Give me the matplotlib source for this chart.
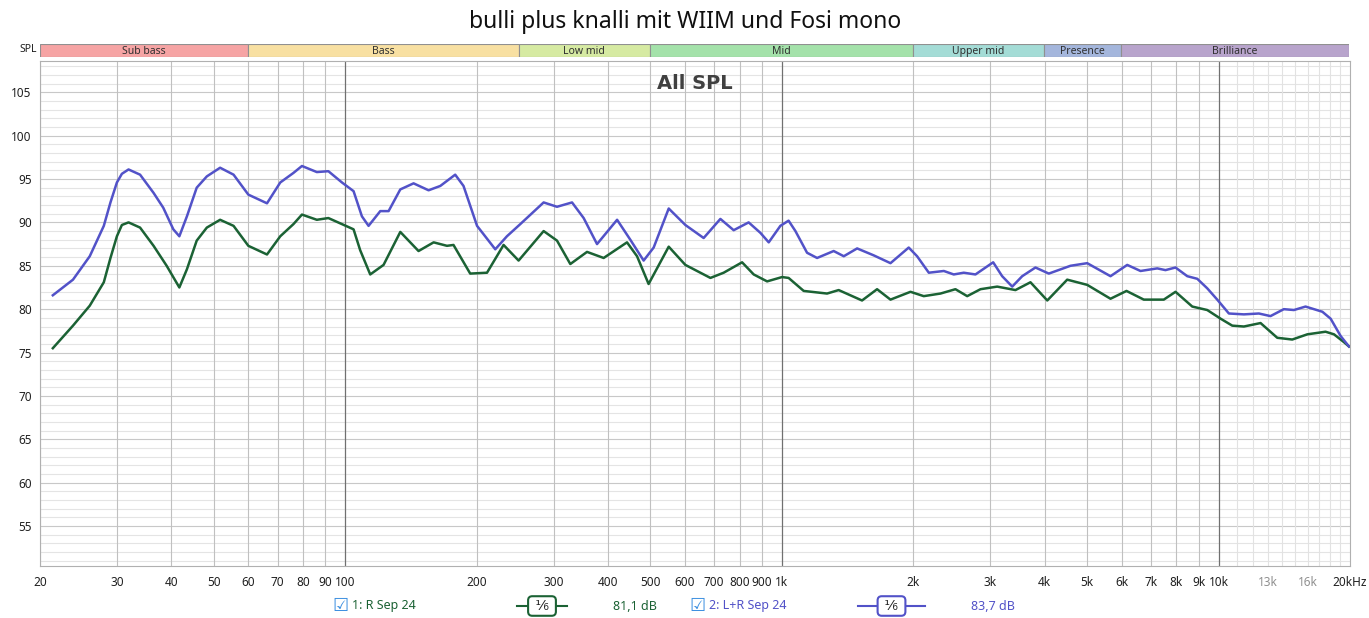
import matplotlib
matplotlib.use("Agg")
import matplotlib.pyplot as plt
from matplotlib.lines import Line2D
from matplotlib.patches import Rectangle

plt.rcParams['font.family'] = ['Noto Sans', 'DejaVu Sans']

title = "bulli plus knalli mit WIIM und Fosi mono"

# 1: R Sep 24 (green)
freq_r = [21.4, 23.8, 26.0, 28.0, 29.0, 30.0, 30.8, 31.9, 33.9, 36.4, 39.0, 41.7, 43.4, 45.7,
          48.2, 51.7, 55.5, 60.0, 66.2, 71.0, 76.1, 79.6, 86.1, 91.5, 98.3, 104.5,
          108.2, 114.1, 122.4, 133.7, 147.2, 159.4, 171.0, 177.0, 193.3, 211.2, 230.5,
          249.5, 284.7, 305.5, 327.7, 357.9, 390.7, 441.9, 465.9, 495.2, 550.6, 601.1,
          686, 735.7, 810.7, 861.9, 925, 1001, 1036, 1122, 1269, 1349, 1526, 1652,
          1773, 1970, 2113, 2308, 2497, 2657, 2850, 3112, 3427, 3709, 4053, 4502,
          5003, 5657, 6155, 6742, 7492, 7970, 8706, 9422, 10110, 10750, 11430, 12480,
          13630, 14750, 15970, 17580, 18380, 19370, 19890]
spl_r = [75.5, 78.1, 80.4, 83.1, 85.9, 88.4, 89.7, 90.0, 89.4, 87.3, 85.0, 82.5, 84.6, 87.9,
         89.4, 90.3, 89.6, 87.3, 86.3, 88.4, 89.8, 90.9, 90.3, 90.5, 89.8, 89.2,
         86.8, 84.0, 85.1, 88.9, 86.7, 87.7, 87.3, 87.4, 84.1, 84.2, 87.4,
         85.6, 89.0, 87.9, 85.2, 86.6, 85.9, 87.7, 86.1, 82.9, 87.2, 85.1,
         83.6, 84.2, 85.4, 84.0, 83.2, 83.7, 83.6, 82.1, 81.8, 82.2, 81.0, 82.3,
         81.1, 82.0, 81.5, 81.8, 82.3, 81.5, 82.3, 82.6, 82.2, 83.1, 81.0, 83.4,
         82.8, 81.2, 82.1, 81.1, 81.1, 82.0, 80.3, 79.9, 78.9, 78.1, 78.0, 78.4,
         76.7, 76.5, 77.1, 77.4, 77.1, 76.2, 75.7]

# 2: L+R Sep 24 (blue)
freq_lr = [21.4, 23.8, 26.0, 28.0, 29.0, 30.0, 30.8, 31.9, 33.9, 36.4, 38.3, 40.4, 41.7, 43.4,
           45.7, 48.2, 51.7, 55.5, 60.0, 66.2, 71.0, 76.1, 79.6, 86.1, 91.5, 98.3,
           104.5, 109.2, 113.1, 120.3, 125.7, 133.7, 143.4, 155.2, 165.1, 178.6, 186.6,
           200.4, 220.6, 234.6, 251.7, 284.7, 305.5, 330.7, 351.6, 377.3, 419.4, 449.7,
           482.4, 508.6, 550.6, 601.1, 662.0, 723.0, 775.5, 839.2, 892.7, 933, 992,
           1036, 1074, 1142, 1204, 1314, 1386, 1487, 1623, 1773, 1952, 2040, 2170,
           2349, 2475, 2609, 2775, 3047, 3195, 3369, 3551, 3808, 4086, 4581, 5003,
           5657, 6178, 6627, 7237, 7559, 7970, 8480, 8938, 9422, 9931, 10560, 11430,
           12370, 13150, 14110, 14880, 15820, 17290, 18060, 19040, 19890]
spl_lr = [81.6, 83.4, 86.1, 89.6, 92.3, 94.6, 95.6, 96.1, 95.5, 93.4, 91.7, 89.2, 88.4, 90.7,
          94.0, 95.3, 96.3, 95.5, 93.2, 92.2, 94.6, 95.7, 96.5, 95.8, 95.9, 94.6,
          93.6, 90.7, 89.6, 91.3, 91.3, 93.8, 94.5, 93.7, 94.2, 95.5, 94.2,
          89.6, 86.9, 88.4, 89.8, 92.3, 91.8, 92.3, 90.5, 87.5, 90.3, 88.0,
          85.6, 87.1, 91.6, 89.7, 88.2, 90.4, 89.1, 90.0, 88.8, 87.7, 89.6,
          90.2, 89.0, 86.5, 85.9, 86.7, 86.1, 87.0, 86.2, 85.3, 87.1, 86.1, 84.2,
          84.4, 84.0, 84.2, 84.0, 85.4, 83.8, 82.6, 83.8, 84.8, 84.1, 85.0, 85.3,
          83.8, 85.1, 84.4, 84.7, 84.5, 84.8, 83.8, 83.5, 82.4, 81.1, 79.5, 79.4,
          79.5, 79.2, 80.0, 79.9, 80.3, 79.7, 78.9, 76.9, 75.7]

bands = ["Sub bass", "Bass", "Low mid", "Mid", "Upper mid", "Presence", "Brilliance"]
band_edges = [20, 60, 250, 500, 2000, 4000, 6000, 20000]
band_colors = ["#f6a4a4", "#f8e0a2", "#d6eaa2", "#a4e2aa", "#a4dcd6", "#a4b6dc", "#b8a4cc"]

xtick_vals = [20, 30, 40, 50, 60, 70, 80, 90, 100, 200, 300, 400, 500, 600, 700, 800, 900,
              1000, 2000, 3000, 4000, 5000, 6000, 7000, 8000, 9000, 10000, 13000, 16000, 20000]
xtick_labels = ["20", "30", "40", "50", "60", "70", "80", "90", "100", "200", "300", "400",
                "500", "600", "700", "800", "900", "1k", "2k", "3k", "4k", "5k", "6k", "7k",
                "8k", "9k", "10k", "13k", "16k", "20kHz"]
ytick_vals = [55, 60, 65, 70, 75, 80, 85, 90, 95, 100, 105]

green = "#1b6234"
blue = "#5252c8"

W, H = 1369, 618
fig = plt.figure(figsize=(W / 100, H / 100), dpi=100)
ax = fig.add_axes([40 / W, (H - 566) / H, 1310 / W, 505 / H])
ax.set_xscale("log")
ax.set_xlim(20, 20000)
ax.set_ylim(50.4, 108.6)

# grid
for v in range(51, 109):
    c = "#c8c8c8" if v % 5 == 0 else "#e4e4e4"
    ax.axhline(v, color=c, lw=0.8, zorder=0)
grid_f = list(range(20, 100, 10)) + list(range(200, 1000, 100)) + \
    list(range(2000, 10000, 1000))
for f in grid_f:
    ax.axvline(f, color="#c0c0c0", lw=0.8, zorder=0)
for f in range(11000, 20000, 1000):
    ax.axvline(f, color="#e2e2e2", lw=0.8, zorder=0)
for f in [100, 1000, 10000]:
    ax.axvline(f, color="#707070", lw=0.9, zorder=0)

ax.plot(freq_r, spl_r, color=green, lw=1.8, zorder=3, solid_joinstyle="round")
ax.plot(freq_lr, spl_lr, color=blue, lw=1.8, zorder=3, solid_joinstyle="round")

ax.set_xticks(xtick_vals)
ax.set_xticklabels(xtick_labels)
ax.xaxis.set_minor_locator(matplotlib.ticker.NullLocator())
ax.set_yticks(ytick_vals)
ax.tick_params(length=0, labelsize=8.5, colors="#202020", pad=7)
ax.tick_params(axis="y", pad=6)
for lbl in ax.get_xticklabels():
    if lbl.get_text() in ("13k", "16k"):
        lbl.set_color("#909090")
for s in ax.spines.values():
    s.set_color("#b0b0b0")

ax.text(0.5, 0.975, "All SPL", transform=ax.transAxes, ha="center", va="top",
        fontsize=14, fontweight="bold", color="#404040", family="DejaVu Sans")

# frequency band strip
bx = fig.add_axes([40 / W, (H - 57) / H, 1309 / W, 13 / H])
bx.set_xscale("log")
bx.set_xlim(20, 20000)
bx.set_ylim(0, 1)
bx.axis("off")
for i, name in enumerate(bands):
    lo, hi = band_edges[i], band_edges[i + 1]
    bx.add_patch(Rectangle((lo, 0), hi - lo, 1, facecolor=band_colors[i],
                           edgecolor="#909090", lw=0.8))
    bx.text((lo * hi) ** 0.5, 0.45, name, ha="center", va="center", fontsize=7.5,
            color="#303030")
fig.text(28 / W, 1 - 50 / H, "SPL", ha="center", va="center", fontsize=7.5, color="#202020")

fig.text(685 / W, 1 - 22 / H, title, ha="center", va="center", fontsize=16.5, color="#101010")

# legend row
ly = 1 - 606 / H
legend_items = [
    (340, "1: R Sep 24", 517, 567, "81,1 dB", 613, green),
    (697, "2: L+R Sep 24", 858, 925, "83,7 dB", 971, blue),
]
for cx, name, l0, l1, val, vx, col in legend_items:
    fig.text(cx / W, ly, "\u2611", ha="center", va="center", fontsize=13,
             color="#3a8ee0", family="DejaVu Sans")
    fig.text((cx + 12) / W, ly, name, ha="left", va="center", fontsize=9, color=col)
    fig.add_artist(Line2D([l0 / W, l1 / W], [ly, ly], color=col, lw=1.5))
    fig.text((l0 + l1) / 2 / W, ly, " \u00b9\u2044\u2086 ", ha="center", va="center",
             fontsize=10, color="#202020", family="DejaVu Sans",
             bbox=dict(boxstyle="round,pad=0.2,rounding_size=0.3", fc="white",
                       ec=col, lw=1.5))
    fig.text(vx / W, ly, val, ha="left", va="center", fontsize=9, color=col)

fig.savefig("out.png", dpi=100)
